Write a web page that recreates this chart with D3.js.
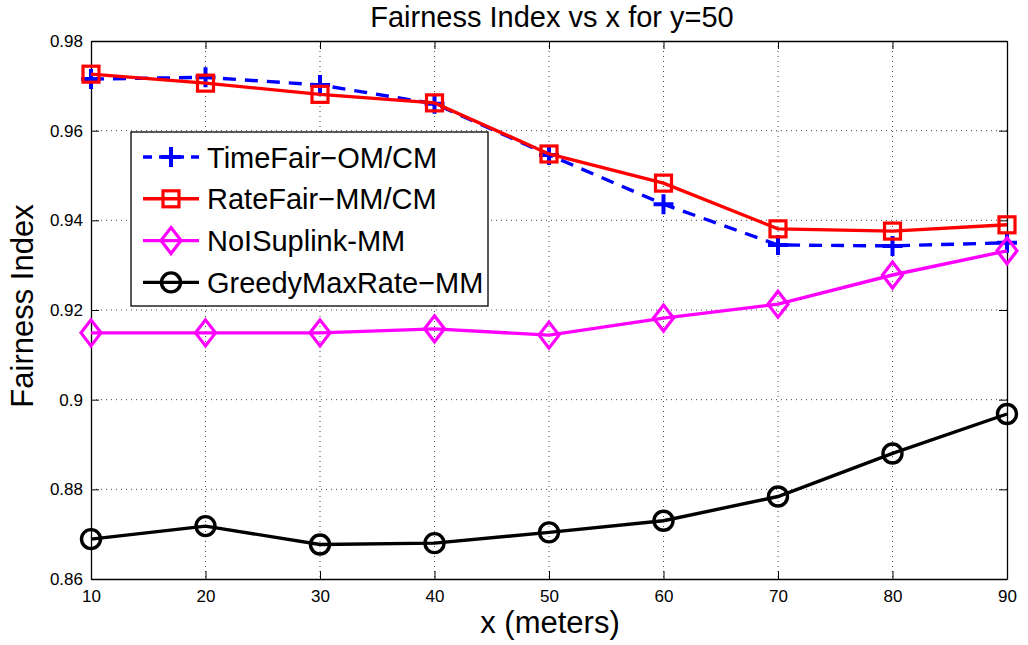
<!DOCTYPE html>
<html>
<head>
<meta charset="utf-8">
<script src="https://cdn.jsdelivr.net/npm/d3@7/dist/d3.min.js"></script>
<style>
  body { margin: 0; background: #fff; }
  svg { display: block; font-family: "Liberation Sans", Arial, Helvetica, sans-serif; }
</style>
</head>
<body>
<div id="chart"></div>
<script>
// data
var xValues = [10, 20, 30, 40, 50, 60, 70, 80, 90];
var timeFair = [0.9715, 0.9719, 0.9702, 0.9660, 0.9546, 0.9436, 0.9345, 0.9343, 0.9350];
var rateFair = [0.9726, 0.9706, 0.9681, 0.9662, 0.9548, 0.9483, 0.9381, 0.9376, 0.9390];
var noISuplink = [0.9149, 0.9149, 0.9149, 0.9158, 0.9144, 0.9182, 0.9213, 0.9278, 0.9332];
var greedyMax = [0.8689, 0.8718, 0.8677, 0.8680, 0.8704, 0.8730, 0.8784, 0.8880, 0.8968];
var yTicks = [0.86, 0.88, 0.9, 0.92, 0.94, 0.96, 0.98];
var seriesNames = ["TimeFair\u2212OM/CM", "RateFair\u2212MM/CM", "NoISuplink-MM", "GreedyMaxRate\u2212MM"];

var series = [
    { name: seriesNames[0], values: timeFair, color: "#0000ff", marker: "plus", dash: "13,9" },
    { name: seriesNames[1], values: rateFair, color: "#ff0000", marker: "square", dash: null },
    { name: seriesNames[2], values: noISuplink, color: "#ff00ff", marker: "diamond", dash: null },
    { name: seriesNames[3], values: greedyMax, color: "#000000", marker: "circle", dash: null }
];

var W = 1028, H = 645;
var margin = { top: 41, right: 21, bottom: 66, left: 91 };
var width = W - margin.left - margin.right,
    height = H - margin.top - margin.bottom;

var svg = d3.select("#chart").append("svg")
    .attr("width", W)
    .attr("height", H);

var g = svg.append("g")
    .attr("transform", "translate(" + margin.left + "," + margin.top + ")");

var x = d3.scaleLinear().domain([10, 90]).range([0, width]);
var y = d3.scaleLinear().domain([0.86, 0.98]).range([height, 0]);

// dotted grid
g.append("g").selectAll("line.gx")
    .data(xValues.slice(1, -1))
    .enter().append("line")
    .attr("x1", d => x(d)).attr("x2", d => x(d))
    .attr("y1", 0).attr("y2", height)
    .attr("stroke", "#444").attr("stroke-width", 1)
    .attr("stroke-dasharray", "1,4");
g.append("g").selectAll("line.gy")
    .data(yTicks.slice(1, -1))
    .enter().append("line")
    .attr("x1", 0).attr("x2", width)
    .attr("y1", d => y(d)).attr("y2", d => y(d))
    .attr("stroke", "#444").attr("stroke-width", 1)
    .attr("stroke-dasharray", "1,4");

// axes (ticks pointing in, box all round)
var fmtY = function (d) { return d3.format(".2f")(d).replace(/0$/, ""); };
var tickLen = 8;

var xAxis = g.append("g").attr("transform", "translate(0," + height + ")")
    .call(d3.axisBottom(x).tickValues(xValues).tickSizeInner(-tickLen).tickSizeOuter(0).tickPadding(11));
var yAxis = g.append("g")
    .call(d3.axisLeft(y).tickValues(yTicks).tickFormat(fmtY).tickSizeInner(-tickLen).tickSizeOuter(0).tickPadding(8));
var xTop = g.append("g")
    .call(d3.axisTop(x).tickValues(xValues).tickSizeInner(-tickLen).tickSizeOuter(0).tickFormat(""));
var yRight = g.append("g").attr("transform", "translate(" + width + ",0)")
    .call(d3.axisRight(y).tickValues(yTicks).tickSizeInner(-tickLen).tickSizeOuter(0).tickFormat(""));

[xAxis, yAxis, xTop, yRight].forEach(function (a) {
    a.select(".domain").attr("stroke", "#000").attr("stroke-width", 1.3);
    a.selectAll(".tick line").attr("stroke", "#000").attr("stroke-width", 1);
    a.selectAll(".tick text").attr("fill", "#000").style("font-size", "17px");
});

// lines
var line = d3.line()
    .x(function (d, i) { return x(xValues[i]); })
    .y(function (d) { return y(d); });

function drawMarker(sel, type, color) {
    if (type === "plus") {
        sel.append("path").attr("d", "M-10,0H10M0,-10V10")
            .attr("stroke", color).attr("stroke-width", 4).attr("fill", "none");
    } else if (type === "square") {
        sel.append("rect").attr("x", -8).attr("y", -8).attr("width", 16).attr("height", 16)
            .attr("stroke", color).attr("stroke-width", 3.2).attr("fill", "none");
    } else if (type === "diamond") {
        sel.append("path").attr("d", "M0,-13L10,0L0,13L-10,0Z")
            .attr("stroke", color).attr("stroke-width", 3.2).attr("fill", "none");
    } else if (type === "circle") {
        sel.append("circle").attr("r", 9.5)
            .attr("stroke", color).attr("stroke-width", 3.4).attr("fill", "none");
    }
}

series.forEach(function (s) {
    g.append("path")
        .datum(s.values)
        .attr("d", line)
        .attr("fill", "none")
        .attr("stroke", s.color)
        .attr("stroke-width", 3.4)
        .attr("stroke-dasharray", s.dash);
    g.selectAll(null)
        .data(s.values)
        .enter().append("g")
        .attr("transform", function (d, i) { return "translate(" + x(xValues[i]) + "," + y(d) + ")"; })
        .each(function () { drawMarker(d3.select(this), s.marker, s.color); });
});

// legend
var legend = svg.append("g").attr("transform", "translate(131,132)");
legend.append("rect")
    .attr("width", 357).attr("height", 174)
    .attr("fill", "#fff").attr("stroke", "#000").attr("stroke-width", 1.3);
series.forEach(function (s, i) {
    var row = legend.append("g").attr("transform", "translate(0," + (25 + i * 41.8) + ")");
    row.append("line")
        .attr("x1", 12).attr("x2", 68).attr("y1", 0).attr("y2", 0)
        .attr("stroke", s.color).attr("stroke-width", 3.4)
        .attr("stroke-dasharray", s.dash ? "9,7" : null);
    drawMarker(row.append("g").attr("transform", "translate(40,0)"), s.marker, s.color);
    row.append("text")
        .attr("x", 76).attr("y", 10.5)
        .style("font-size", "29px")
        .text(s.name);
});

// titles
svg.append("text")
    .attr("x", 552).attr("y", 27)
    .attr("text-anchor", "middle")
    .style("font-size", "29px")
    .text("Fairness Index vs x for y=50");
svg.append("text")
    .attr("x", 550).attr("y", 633)
    .attr("text-anchor", "middle")
    .style("font-size", "31px")
    .text("x (meters)");
svg.append("text")
    .attr("transform", "translate(33,306) rotate(-90)")
    .attr("text-anchor", "middle")
    .style("font-size", "31px")
    .text("Fairness Index");
</script>
</body>
</html>
